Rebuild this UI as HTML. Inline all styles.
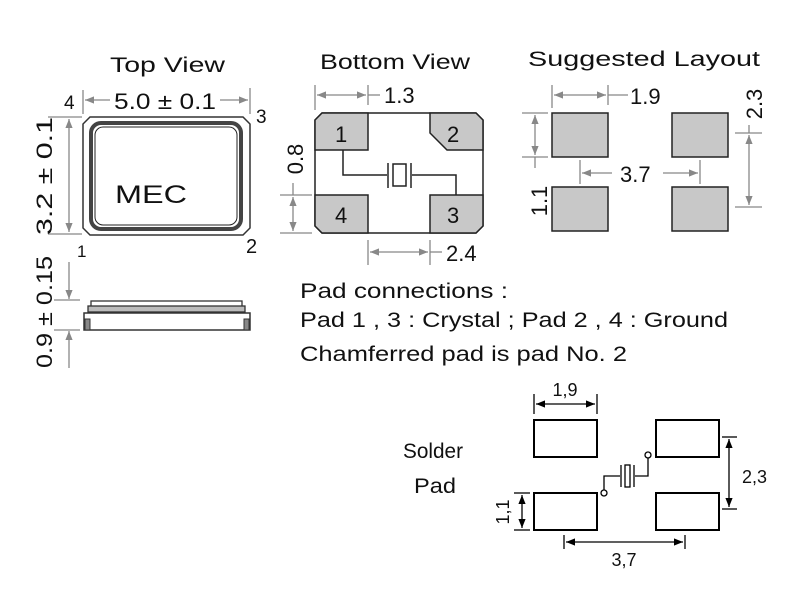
<!DOCTYPE html>
<html><head><meta charset="utf-8"><style>
html,body{margin:0;padding:0;background:#fff;width:800px;height:600px;overflow:hidden}
svg{display:block}
text{font-family:"Liberation Sans",sans-serif;fill:#111}
</style></head><body>
<svg width="800" height="600" viewBox="0 0 800 600" xmlns="http://www.w3.org/2000/svg">
<defs>
<marker id="ag" viewBox="0 0 10 10" refX="10" refY="5" markerWidth="7" markerHeight="7" orient="auto-start-reverse"><path d="M0,1 L10,5 L0,9 Z" fill="#888"/></marker>
<marker id="ab" viewBox="0 0 10 10" refX="10" refY="5" markerWidth="7" markerHeight="7" orient="auto-start-reverse"><path d="M0,1 L10,5 L0,9 Z" fill="#000"/></marker>
</defs>

<!-- TOP VIEW -->
<text x="110" y="72" font-size="21" textLength="115" lengthAdjust="spacingAndGlyphs">Top View</text>
<g stroke="#888" stroke-width="1.3" fill="none">
<line x1="83" y1="90" x2="83" y2="114"/><line x1="250" y1="88" x2="250" y2="114"/>
<line x1="85" y1="100" x2="110" y2="100" marker-start="url(#ag)"/>
<line x1="220" y1="100" x2="248" y2="100" marker-end="url(#ag)"/>
<line x1="48" y1="117" x2="82" y2="117"/><line x1="48" y1="234" x2="82" y2="234"/>
<line x1="69" y1="119" x2="69" y2="232" marker-start="url(#ag)" marker-end="url(#ag)"/>
<line x1="69" y1="262" x2="69" y2="299" marker-end="url(#ag)"/>
<line x1="54" y1="300" x2="80" y2="300"/><line x1="54" y1="330" x2="80" y2="330"/>
<line x1="69" y1="368" x2="69" y2="331" marker-end="url(#ag)"/>
</g>
<text x="114" y="109" font-size="22" textLength="102" lengthAdjust="spacingAndGlyphs">5.0 ± 0.1</text>
<text x="64" y="109" font-size="19">4</text>
<text x="256" y="123" font-size="19">3</text>
<text x="77" y="257" font-size="17">1</text>
<text x="246" y="253" font-size="20">2</text>
<text transform="translate(52,176) rotate(-90)" font-size="22" text-anchor="middle" textLength="118" lengthAdjust="spacingAndGlyphs">3.2 ± 0.1</text>
<text transform="translate(52,312) rotate(-90)" font-size="22" text-anchor="middle" textLength="112" lengthAdjust="spacingAndGlyphs">0.9 ± 0.15</text>
<path d="M90,117 L243,117 L250,124 L250,228 L243,235 L90,235 L83,228 L83,124 Z" fill="#fff" stroke="#333" stroke-width="1.5"/>
<rect x="91" y="123" width="150" height="106" rx="10" fill="none" stroke="#444" stroke-width="4"/>
<rect x="95" y="127" width="142" height="98" rx="8" fill="#fff" stroke="#222" stroke-width="1"/>
<text x="115" y="203" font-size="25" textLength="72" lengthAdjust="spacingAndGlyphs">MEC</text>
<!-- side view -->
<rect x="91" y="301" width="151" height="6" fill="#fff" stroke="#333" stroke-width="1.3"/>
<rect x="88" y="306" width="157" height="6" fill="#bbb" stroke="#333" stroke-width="1.3"/>
<rect x="84" y="313" width="166" height="17" fill="#fff" stroke="#333" stroke-width="1.5"/>
<rect x="85" y="319" width="5" height="11" fill="#888" stroke="#333"/>
<rect x="244" y="319" width="5" height="11" fill="#888" stroke="#333"/>

<!-- BOTTOM VIEW -->
<text x="320" y="69" font-size="21" textLength="150" lengthAdjust="spacingAndGlyphs">Bottom View</text>
<g stroke="#888" stroke-width="1.3" fill="none">
<line x1="315" y1="85" x2="315" y2="110"/><line x1="368" y1="85" x2="368" y2="105"/>
<line x1="317" y1="95" x2="366" y2="95" marker-start="url(#ag)" marker-end="url(#ag)"/>
<line x1="368" y1="95" x2="380" y2="95"/>
<line x1="280" y1="195" x2="312" y2="195"/><line x1="280" y1="233" x2="312" y2="233"/>
<line x1="293" y1="197" x2="293" y2="231" marker-start="url(#ag)" marker-end="url(#ag)"/>
<line x1="293" y1="183" x2="293" y2="195"/>
<line x1="368" y1="240" x2="368" y2="265"/><line x1="430" y1="240" x2="430" y2="265"/>
<line x1="370" y1="252" x2="428" y2="252" marker-start="url(#ag)" marker-end="url(#ag)"/>
<line x1="430" y1="252" x2="442" y2="252"/>
</g>
<text x="384" y="103" font-size="22">1.3</text>
<text x="446" y="261" font-size="22">2.4</text>
<text transform="translate(303,159) rotate(-90)" font-size="22" text-anchor="middle">0.8</text>
<path d="M322,113 L476,113 L483,120 L483,226 L476,233 L322,233 L315,226 L315,120 Z" fill="#fff" stroke="#222" stroke-width="1.5"/>
<path d="M322,113 L368,113 L368,150 L315,150 L315,120 Z" fill="#c8c8c8" stroke="#222" stroke-width="1.5"/>
<path d="M430,113 L476,113 L483,120 L483,150 L447,150 L430,133 Z" fill="#c8c8c8" stroke="#222" stroke-width="1.5"/>
<path d="M315,195 L368,195 L368,233 L322,233 L315,226 Z" fill="#c8c8c8" stroke="#222" stroke-width="1.5"/>
<path d="M430,195 L483,195 L483,226 L476,233 L430,233 Z" fill="#c8c8c8" stroke="#222" stroke-width="1.5"/>
<text x="335" y="142" font-size="22">1</text>
<text x="447" y="142" font-size="22">2</text>
<text x="335" y="223" font-size="22">4</text>
<text x="447" y="223" font-size="22">3</text>
<g stroke="#222" stroke-width="1.5" fill="none">
<polyline points="343,150 343,175 387,175"/>
<line x1="388" y1="163" x2="388" y2="188"/>
<rect x="393" y="164" width="13" height="22"/>
<line x1="411" y1="163" x2="411" y2="188"/>
<polyline points="412,175 456,175 456,195"/>
</g>

<!-- SUGGESTED LAYOUT -->
<text x="528" y="66" font-size="21" textLength="232" lengthAdjust="spacingAndGlyphs">Suggested  Layout</text>
<g fill="#c8c8c8" stroke="#222" stroke-width="1.5">
<rect x="552" y="113" width="56" height="44"/><rect x="672" y="113" width="56" height="44"/>
<rect x="552" y="187" width="56" height="44"/><rect x="672" y="187" width="56" height="44"/>
</g>
<g stroke="#888" stroke-width="1.3" fill="none">
<line x1="552" y1="85" x2="552" y2="108"/><line x1="608" y1="85" x2="608" y2="105"/>
<line x1="554" y1="95" x2="606" y2="95" marker-start="url(#ag)" marker-end="url(#ag)"/>
<line x1="608" y1="95" x2="628" y2="95"/>
<line x1="522" y1="113" x2="548" y2="113"/><line x1="522" y1="157" x2="548" y2="157"/>
<line x1="535" y1="115" x2="535" y2="155" marker-start="url(#ag)" marker-end="url(#ag)"/>
<line x1="535" y1="157" x2="535" y2="168"/>
<line x1="580" y1="160" x2="580" y2="184"/><line x1="700" y1="160" x2="700" y2="184"/>
<line x1="582" y1="173" x2="612" y2="173" marker-start="url(#ag)"/>
<line x1="663" y1="173" x2="698" y2="173" marker-end="url(#ag)"/>
<line x1="735" y1="133" x2="762" y2="133"/><line x1="735" y1="207" x2="762" y2="207"/>
<line x1="749" y1="135" x2="749" y2="205" marker-start="url(#ag)" marker-end="url(#ag)"/>
<line x1="749" y1="125" x2="749" y2="133"/>
</g>
<text x="630" y="104" font-size="22">1.9</text>
<text x="620" y="182" font-size="22">3.7</text>
<text transform="translate(547,201) rotate(-90)" font-size="22" text-anchor="middle">1.1</text>
<text transform="translate(762,104) rotate(-90)" font-size="22" text-anchor="middle">2.3</text>

<!-- PAD CONNECTIONS -->
<text x="300" y="298" font-size="21" textLength="208" lengthAdjust="spacingAndGlyphs">Pad connections :</text>
<text x="300" y="327" font-size="21" textLength="428" lengthAdjust="spacingAndGlyphs">Pad 1 , 3 : Crystal  ;  Pad 2 , 4 : Ground</text>
<text x="300" y="361" font-size="21" textLength="327" lengthAdjust="spacingAndGlyphs">Chamferred pad is pad No. 2</text>

<!-- SOLDER PAD -->
<text x="403" y="458" font-size="21" textLength="60" lengthAdjust="spacingAndGlyphs">Solder</text>
<text x="414" y="493" font-size="21" textLength="42" lengthAdjust="spacingAndGlyphs">Pad</text>
<g fill="#fff" stroke="#000" stroke-width="2">
<rect x="534" y="420" width="63" height="37"/><rect x="656" y="420" width="63" height="37"/>
<rect x="534" y="493" width="63" height="37"/><rect x="656" y="493" width="63" height="37"/>
</g>
<g stroke="#000" stroke-width="1.3" fill="none">
<line x1="534" y1="394" x2="534" y2="414"/><line x1="597" y1="394" x2="597" y2="414"/>
<line x1="536" y1="404" x2="595" y2="404" marker-start="url(#ab)" marker-end="url(#ab)"/>
<line x1="722" y1="437" x2="737" y2="437"/><line x1="722" y1="509" x2="737" y2="509"/>
<line x1="729" y1="439" x2="729" y2="507" marker-start="url(#ab)" marker-end="url(#ab)"/>
<line x1="514" y1="493" x2="530" y2="493"/><line x1="514" y1="530" x2="530" y2="530"/>
<line x1="522" y1="495" x2="522" y2="528" marker-start="url(#ab)" marker-end="url(#ab)"/>
<line x1="564" y1="535" x2="564" y2="549"/><line x1="685" y1="535" x2="685" y2="549"/>
<line x1="566" y1="542" x2="683" y2="542" marker-start="url(#ab)" marker-end="url(#ab)"/>
<polyline points="604,490 604,476 620,476"/>
<line x1="621" y1="465" x2="621" y2="487"/>
<rect x="625" y="465" width="5" height="22"/>
<line x1="634" y1="465" x2="634" y2="487"/>
<polyline points="635,476 648,476 648,458"/>
<circle cx="604" cy="493" r="3" fill="#fff"/>
<circle cx="648" cy="455" r="3" fill="#fff"/>
</g>
<text x="565" y="396" font-size="18" text-anchor="middle">1,9</text>
<text x="742" y="483" font-size="18">2,3</text>
<text x="624" y="566" font-size="18" text-anchor="middle">3,7</text>
<text transform="translate(509,512) rotate(-90)" font-size="18" text-anchor="middle">1,1</text>
</svg>
</body></html>
